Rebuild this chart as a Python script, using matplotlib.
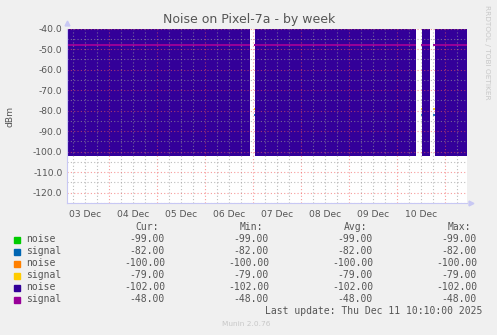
import matplotlib
matplotlib.use("Agg")
import matplotlib.pyplot as plt
from matplotlib.ticker import MultipleLocator, FuncFormatter
import numpy as np

# hours since 03 Dec 2025 00:00
t_start = 2.7
t_end = 202.7
step = 0.5

names = ['noise', 'signal', 'noise', 'signal', 'noise', 'signal']
colors = ['#00CC00', '#0066B3', '#FF8000', '#FFCC00', '#330099', '#990099']
cur = [-99.0, -82.0, -100.0, -79.0, -102.0, -48.0]
vmin = [-99.0, -82.0, -100.0, -79.0, -102.0, -48.0]
vavg = [-99.0, -82.0, -100.0, -79.0, -102.0, -48.0]
vmax = [-99.0, -82.0, -100.0, -79.0, -102.0, -48.0]

# periods without data (hours)
line_gaps = [(94.2, 95.8), (177.4, 179.6), (184.4, 185.3)]
area_gaps = [(94.2, 96.3), (177.4, 180.0), (184.4, 186.3)]
gap_of = [area_gaps, line_gaps, area_gaps, line_gaps, area_gaps, line_gaps]

title = 'Noise on Pixel-7a - by week'
ylabel = 'dBm'
last_update = 'Last update: Thu Dec 11 10:10:00 2025'

txt = '#555555'
t = np.arange(t_start, t_end + step, step)


def with_gaps(val, gaps):
    y = np.full(t.shape, val, dtype=float)
    for a, b in gaps:
        y[(t > a) & (t < b)] = np.nan
    return y


fig = plt.figure(figsize=(4.97, 3.35), dpi=100, facecolor='#F0F0F0')
ax = fig.add_axes([66.7/497, 1 - 203/335, 400/497, (203 - 28.7)/335])
ax.set_facecolor('white')
ax.set_axisbelow(False)

for i in range(4):
    ax.plot(t, with_gaps(cur[i], gap_of[i]), color=colors[i], lw=1.2, zorder=1.5,
            solid_capstyle='butt')
ax.fill_between(t, with_gaps(cur[4], gap_of[4]), 0, color=colors[4], lw=0, zorder=2)
ax.plot(t, with_gaps(cur[5], gap_of[5]), color=colors[5], lw=1.4, zorder=2.2,
        solid_capstyle='butt')

ax.set_xlim(t_start, t_end)
ax.set_ylim(-125, -40)

ax.xaxis.set_major_locator(MultipleLocator(24))
ax.xaxis.set_minor_locator(MultipleLocator(6))
ax.xaxis.set_major_formatter(FuncFormatter(lambda v, p: ''))
ax.xaxis.set_minor_formatter(FuncFormatter(
    lambda v, p: '%02d Dec' % (int(v // 24) + 3) if abs(v % 24 - 12) < 0.01 else ''))
ax.yaxis.set_major_locator(MultipleLocator(10))
ax.yaxis.set_minor_locator(MultipleLocator(5))
ax.yaxis.set_major_formatter(FuncFormatter(lambda v, p: '%.1f' % v))

ax.grid(which='major', color=(0.95, 0.35, 0.35), alpha=0.6, ls=(0, (1, 2)), lw=0.8)
ax.grid(which='minor', color=(0.6, 0.6, 0.6), alpha=0.65, ls=(0, (1, 2)), lw=0.8)

ax.tick_params(which='both', length=0, labelsize=6.6, labelcolor=txt)
ax.tick_params(axis='x', which='minor', pad=5)
ax.tick_params(axis='y', pad=3)

for s in ['top', 'right']:
    ax.spines[s].set_visible(False)
for s in ['left', 'bottom']:
    ax.spines[s].set_color('#c8c8f4')
    ax.spines[s].set_linewidth(0.8)
    ax.spines[s].set_zorder(6)
ax.plot([0], [1.03], marker='^', ms=3.5, color='#c8c8f4', transform=ax.transAxes, clip_on=False)
ax.plot([1.01], [0], marker='>', ms=3.5, color='#c8c8f4', transform=ax.transAxes, clip_on=False)

fig.text(249/497, 1 - 19/335, title, ha='center', va='center', fontsize=9, color=txt)
fig.text(10/497, 1 - 116/335, ylabel, rotation=90, ha='center', va='center', fontsize=6.6, color=txt)
fig.text(487/497, 1 - 5/335, 'RRDTOOL / TOBI OETIKER', rotation=270, ha='center', va='top',
         fontsize=5.3, color='#c8c8c8')

# legend table
mono = 'DejaVu Sans Mono'
cols = [165, 269, 373, 477]
heads = ['Cur:', 'Min:', 'Avg:', 'Max:']
for x, h in zip(cols, heads):
    fig.text((x - 6)/497, 1 - 227/335, h, ha='right', va='center', family=mono, fontsize=7, color=txt)
for r in range(len(names)):
    y = 1 - (239.5 + 12*r)/335
    fig.patches.append(plt.Rectangle((14/497, y - 3/335), 6/497, 6/335, color=colors[r],
                                     transform=fig.transFigure, figure=fig))
    fig.text(26/497, y, names[r], ha='left', va='center', family=mono, fontsize=7, color=txt)
    for x, v in zip(cols, [cur[r], vmin[r], vavg[r], vmax[r]]):
        fig.text(x/497, y, '%.2f' % v, ha='right', va='center', family=mono, fontsize=7, color=txt)

fig.text(482/497, 1 - 311/335, last_update, ha='right', va='center', family=mono, fontsize=7, color=txt)
fig.text(246/497, 1 - 324/335, 'Munin 2.0.76', ha='center', va='center', fontsize=5.3, color='#c8c8c8')

fig.savefig('out.png', dpi=100, facecolor=fig.get_facecolor())
